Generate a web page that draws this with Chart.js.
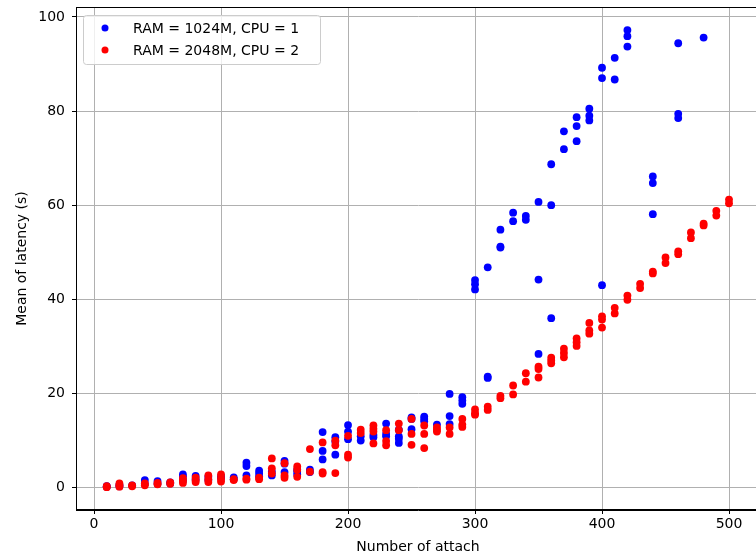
<!DOCTYPE html>
<html>
<head>
<meta charset="utf-8">
<script src="https://cdn.jsdelivr.net/npm/chart.js@4/dist/chart.umd.min.js"></script>
<style>
  html, body { margin: 0; padding: 0; background: #fff; overflow: hidden; }
  #wrap { width: 764px; height: 556px; }
</style>
</head>
<body>
<div id="wrap"><canvas id="latencyChart" width="764" height="556"></canvas></div>
<script>
// tick labels
const xTicks = [0, 100, 200, 300, 400, 500];
const yTicks = [0, 20, 40, 60, 80, 100];

// RAM = 1024M, CPU = 1
const attach1024 = [
  10, 10, 20, 20, 30, 40, 40, 50, 50, 60, 60,
  70, 70, 70, 80, 80, 90, 90, 100, 100, 110, 110,
  120, 120, 120, 130, 130, 130, 140, 140, 150, 150, 150,
  160, 160, 160, 170, 170, 180, 180, 180, 190, 190, 190,
  200, 200, 200, 210, 210, 220, 220, 230, 230, 230,
  240, 240, 240, 240, 250, 250, 250, 260, 260, 260, 270,
  280, 280, 280, 290, 290, 290, 300, 300, 300, 310, 310, 310,
  320, 320, 320, 330, 330, 340, 340, 350, 350, 350,
  360, 360, 360, 370, 370, 380, 380, 380, 390, 390, 390,
  400, 400, 400, 410, 410, 420, 420, 420, 440, 440, 440,
  460, 460, 460, 480
];
const latency1024 = [
  0.3, 0.2, 0.6, 0.3, 0.5, 1.6, 0.8, 1.4, 0.8, 1.1, 0.9,
  2.8, 2.3, 1.5, 2.5, 1.8, 2.3, 1.6, 2.4, 2.0, 2.2, 1.8,
  5.3, 4.6, 2.6, 3.6, 3.0, 2.4, 3.4, 2.6, 5.7, 5.1, 3.3,
  3.8, 3.4, 2.8, 3.8, 3.3, 11.8, 7.8, 6.0, 10.7, 9.8, 7.0,
  13.3, 11.9, 10.3, 10.9, 10.0, 11.2, 10.7, 13.6, 11.4, 10.9,
  12.3, 10.9, 10.4, 9.5, 14.9, 14.6, 12.4, 15.1, 14.6, 14.1, 13.4,
  19.9, 15.2, 13.5, 19.2, 18.5, 17.8, 44.1, 43.2, 42.1, 46.8, 23.6, 23.3,
  54.8, 51.2, 51.0, 58.4, 56.6, 57.7, 56.9, 60.7, 44.2, 28.4,
  68.7, 60.0, 36.0, 75.7, 71.9, 78.7, 76.8, 73.6, 80.5, 79.0, 78.0,
  89.2, 87.0, 43.0, 91.3, 86.7, 97.2, 95.9, 93.7, 66.1, 64.7, 58.1,
  94.4, 79.4, 78.5, 95.6
];

// RAM = 2048M, CPU = 2
const attach2048 = [
  10, 10, 20, 20, 20, 30, 30, 40, 40, 50, 50, 60, 60,
  70, 70, 70, 80, 80, 80, 90, 90, 90, 100, 100, 100,
  110, 110, 120, 120, 130, 130, 140, 140, 140, 150, 150, 150,
  160, 160, 160, 170, 170, 180, 180, 180, 190, 190, 190,
  200, 200, 200, 210, 210, 220, 220, 220, 220, 230, 230, 230,
  240, 240, 250, 250, 250, 260, 260, 260, 270, 270, 270,
  280, 280, 290, 290, 290, 300, 300, 300, 310, 310, 320, 320,
  330, 330, 340, 340, 350, 350, 350, 360, 360, 360, 370, 370, 370,
  380, 380, 380, 390, 390, 390, 400, 400, 400, 410, 410, 420, 420,
  430, 430, 440, 440, 450, 450, 460, 460, 470, 470, 480, 480,
  490, 490, 500, 500
];
const latency2048 = [
  0.3, 0.1, 0.9, 0.5, 0.2, 0.5, 0.3, 0.9, 0.5, 1.0, 0.7, 1.1, 0.8,
  2.0, 1.5, 1.0, 2.1, 1.5, 1.2, 2.6, 1.8, 1.2, 2.8, 2.0, 1.3,
  1.8, 1.6, 1.9, 1.7, 2.1, 1.8, 6.2, 4.1, 3.0, 5.2, 2.6, 2.1,
  4.5, 3.8, 2.3, 8.2, 3.4, 9.6, 3.3, 3.0, 10.0, 9.0, 3.1,
  11.0, 7.0, 6.4, 12.3, 11.6, 13.2, 12.5, 11.9, 9.4, 12.2, 9.9, 9.0,
  13.6, 12.2, 14.6, 11.4, 9.1, 13.2, 11.4, 8.4, 12.8, 12.3, 11.9,
  12.8, 11.4, 14.6, 13.4, 12.9, 16.6, 15.8, 15.5, 17.2, 16.5, 19.5, 19.0,
  21.7, 19.8, 24.3, 22.5, 25.7, 25.2, 23.4, 27.6, 27.0, 26.4, 29.5, 28.6, 27.7,
  31.7, 30.9, 30.1, 35.0, 33.4, 32.7, 36.4, 35.7, 34.0, 38.2, 37.0, 40.8, 39.9,
  43.3, 42.4, 45.9, 45.5, 48.9, 47.7, 50.2, 49.6, 54.2, 53.0, 56.1, 55.7,
  58.8, 57.8, 61.2, 60.4
];

const toPoints = (xs, ys) => xs.map((x, i) => ({ x: x, y: ys[i] }));

const FONT = "'DejaVu Sans', sans-serif";

// no extra room for labels hanging over the plot edges
function fixPadding(scale) {
  scale.paddingTop = 0;
  scale.paddingBottom = 0;
  scale.paddingLeft = 0;
  scale.paddingRight = 0;
}

// frame + legend box drawn inside the plot, like matplotlib
const framePlugin = {
  id: 'frame',
  afterDraw(chart) {
    const ctx = chart.ctx;
    const a = chart.chartArea;
    ctx.save();
    ctx.strokeStyle = '#000';
    ctx.lineWidth = 1;
    ctx.strokeRect(a.left + 0.5, a.top + 0.5, a.right - a.left - 1, a.bottom - a.top - 1);

    // legend
    const bx = 83.5, by = 15.5, bw = 237, bh = 49, r = 3;
    ctx.beginPath();
    ctx.moveTo(bx + r, by);
    ctx.arcTo(bx + bw, by, bx + bw, by + bh, r);
    ctx.arcTo(bx + bw, by + bh, bx, by + bh, r);
    ctx.arcTo(bx, by + bh, bx, by, r);
    ctx.arcTo(bx, by, bx + bw, by, r);
    ctx.closePath();
    ctx.fillStyle = 'rgba(255,255,255,0.8)';
    ctx.fill();
    ctx.strokeStyle = '#cccccc';
    ctx.stroke();

    ctx.font = '14px ' + FONT;
    ctx.textBaseline = 'middle';
    chart.data.datasets.forEach((ds, i) => {
      const cy = 28 + i * 22;
      ctx.beginPath();
      ctx.arc(105, cy, 3.5, 0, Math.PI * 2);
      ctx.fillStyle = ds.backgroundColor;
      ctx.fill();
      ctx.fillStyle = '#000';
      ctx.fillText(ds.label, 133, cy + 1);
    });
    ctx.restore();
  }
};

const ctx = document.getElementById('latencyChart').getContext('2d');
new Chart(ctx, {
  type: 'scatter',
  data: {
    datasets: [{
      label: 'RAM = 1024M, CPU = 1',
      data: toPoints(attach1024, latency1024),
      backgroundColor: '#0000ff',
      pointRadius: 3.9,
      pointBorderWidth: 0,
      order: 2
    }, {
      label: 'RAM = 2048M, CPU = 2',
      data: toPoints(attach2048, latency2048),
      backgroundColor: '#ff0000',
      pointRadius: 3.9,
      pointBorderWidth: 0,
      order: 1
    }]
  },
  options: {
    responsive: false,
    animation: false,
    layout: { padding: { top: 7, left: 0, right: 0, bottom: 0 } },
    plugins: {
      legend: { display: false },
      tooltip: { enabled: false }
    },
    scales: {
      x: {
        type: 'linear',
        min: -14.2,
        max: 524.4,
        afterBuildTicks: scale => { scale.ticks = xTicks.map(v => ({ value: v })); },
        afterFit: scale => { scale.height = 46; fixPadding(scale); },
        grid: { color: '#b0b0b0', lineWidth: 1, drawTicks: true, tickLength: 4, tickColor: '#000', tickWidth: 1 },
        border: { display: true, color: '#000', width: 1 },
        ticks: { color: '#000', font: { family: FONT, size: 14 }, padding: 2, maxRotation: 0 },
        title: { display: true, text: 'Number of attach', color: '#000', font: { family: FONT, size: 14 }, padding: { top: 0, bottom: 0 } }
      },
      y: {
        type: 'linear',
        min: -4.75,
        max: 102.1,
        afterBuildTicks: scale => { scale.ticks = yTicks.map(v => ({ value: v })); },
        afterFit: scale => { scale.width = 76; fixPadding(scale); },
        grid: { color: '#b0b0b0', lineWidth: 1, drawTicks: true, tickLength: 4, tickColor: '#000', tickWidth: 1 },
        border: { display: true, color: '#000', width: 1 },
        ticks: { color: '#000', font: { family: FONT, size: 14 }, padding: 7 },
        title: { display: true, text: 'Mean of latency (s)', color: '#000', font: { family: FONT, size: 14 }, padding: { top: 14, bottom: 0 } }
      }
    }
  },
  plugins: [framePlugin]
});
</script>
</body>
</html>
